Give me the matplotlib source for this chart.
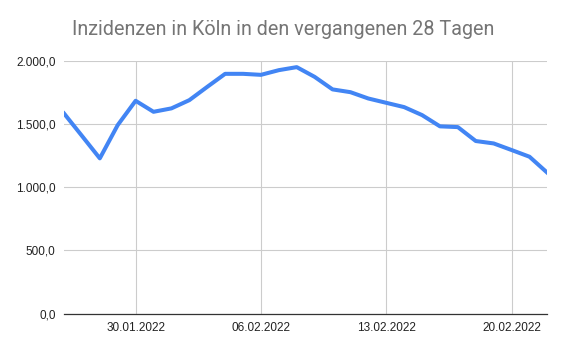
import matplotlib.pyplot as plt
import matplotlib.dates as mdates
import numpy as np
import datetime as dt

# Tageswerte (aus dem Bild geschätzt), 26.01.2022 bis 22.02.2022
start = dt.date(2022, 1, 26)
days = [start + dt.timedelta(days=i) for i in range(28)]
inzidenz = [1582, 1405, 1227, 1490, 1682, 1595, 1622, 1687, 1792, 1895,
            1895, 1887, 1924, 1948, 1871, 1772, 1750, 1700, 1666, 1632,
            1569, 1480, 1474, 1364, 1345, 1293, 1240, 1113]

yticks = [0, 500, 1000, 1500, 2000]
xticks = [dt.date(2022, 1, 30), dt.date(2022, 2, 6), dt.date(2022, 2, 13), dt.date(2022, 2, 20)]

fig = plt.figure(figsize=(5.64, 3.52), dpi=100)
ax = fig.add_axes([0.1135, 0.109, 0.857, 0.719])

ax.plot(days, inzidenz, color='#4285F4', linewidth=2.9, solid_joinstyle='round', zorder=3)

ax.set_ylim(0, 2000)
ax.set_xlim(days[0], days[-1])
ax.set_yticks(yticks)
ax.set_yticklabels([f"{v:,.1f}".replace(',', 'X').replace('.', ',').replace('X', '.') for v in yticks])
ax.set_xticks(xticks)
ax.xaxis.set_major_formatter(mdates.DateFormatter('%d.%m.%Y'))

ax.grid(True, color='#cccccc', linewidth=0.8)
ax.set_axisbelow(True)
for s in ['top', 'right', 'left']:
    ax.spines[s].set_visible(False)
ax.spines['bottom'].set_color('#333333')
ax.spines['bottom'].set_linewidth(0.9)
ax.spines['bottom'].set_zorder(4)
ax.tick_params(length=0, labelsize=8.5, labelcolor='#222222', labelfontfamily='Liberation Sans')
ax.tick_params(axis='y', pad=6)
ax.tick_params(axis='x', pad=6)

fig.text(0.128, 0.915, 'Inzidenzen in Köln in den vergangenen 28 Tagen', fontsize=14.2,
         color='#757575', family='Roboto', va='center', ha='left')

fig.savefig('out.png', dpi=100)
